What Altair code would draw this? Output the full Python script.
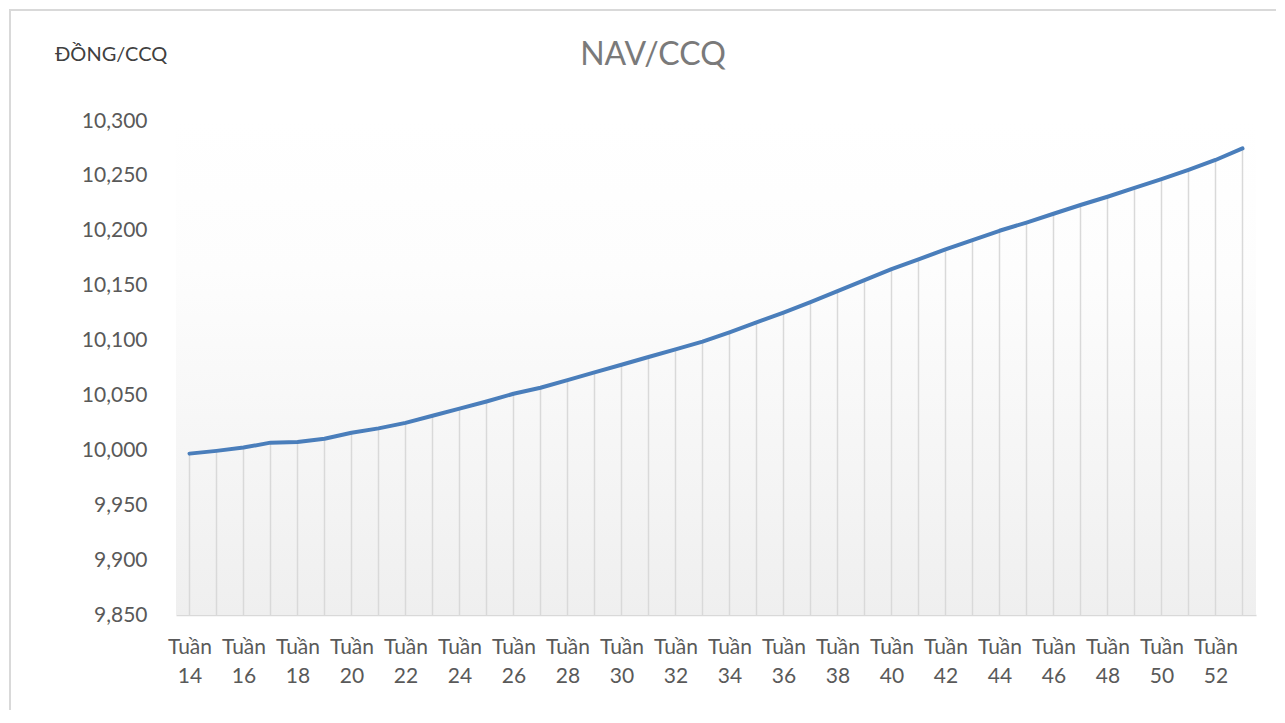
import altair as alt
import pandas as pd

weeks = list(range(14, 54))
nav = [9997, 9999.5, 10002.5, 10007, 10007.5, 10010.5, 10016, 10020, 10025, 10031.5,
       10038, 10044.5, 10051.5, 10057, 10064, 10071, 10078, 10085, 10092, 10099,
       10107.5, 10116.5, 10125.5, 10135, 10145, 10155, 10165, 10174, 10183, 10191.5,
       10200, 10207.5, 10215.5, 10223.5, 10231, 10239, 10247, 10255.5, 10264.5, 10275]
label_weeks = list(range(14, 53, 2))
y_ticks = list(range(9850, 10301, 50))
title_text = "NAV/CCQ"
y_title_text = "ĐỒNG/CCQ"

df = pd.DataFrame({"week": weeks, "nav": nav})

W, H = 1080, 494
FONT = "Lato"

x = alt.X("week:Q", scale=alt.Scale(domain=[13.5, 53.5], nice=False, zero=False),
          axis=alt.Axis(values=label_weeks, labelExpr="['Tuần', '' + datum.value]",
                        ticks=False, grid=False, domainColor="#d9d9d9", domainWidth=1.5,
                        labelFontSize=21, labelColor="#595959", labelFont=FONT,
                        labelPadding=21, labelLineHeight=29, labelOverlap=False,
                        labelFlush=False, title=None))
y = alt.Y("nav:Q", scale=alt.Scale(domain=[9850, 10300], nice=False, zero=False),
          axis=alt.Axis(values=y_ticks, format=",.0f", ticks=False, grid=False, domain=False,
                        labelFontSize=21, labelColor="#595959", labelFont=FONT,
                        labelPadding=29, title=None))

border = alt.Chart(df).mark_rect(fillOpacity=0, stroke="#d9d9d9", strokeWidth=1.5).encode(
    x=alt.value(-166), x2=alt.value(1300), y=alt.value(-111), y2=alt.value(800))

bg = alt.Chart(df).mark_rect(
    fill=alt.Gradient(gradient="linear",
                      stops=[alt.GradientStop(color="#ffffff", offset=0),
                             alt.GradientStop(color="#fdfdfd", offset=0.3),
                             alt.GradientStop(color="#efefef", offset=1)],
                      x1=0, x2=0, y1=0, y2=1)
).encode(x=alt.value(0), x2=alt.value(W), y=alt.value(0), y2=alt.value(H))

rules = alt.Chart(df).mark_rule(color="#d9d9d9", strokeWidth=1.5).encode(
    x=x, y=y, y2=alt.value(H))

line = alt.Chart(df).mark_line(color="#4a7ebb", strokeWidth=4, strokeCap="round",
                               strokeJoin="round").encode(x=x, y=y)

title = alt.Chart(pd.DataFrame({"t": [title_text]})).mark_text(
    font=FONT, fontSize=32, color="#7a7a7a", align="center", baseline="middle"
).encode(text="t:N", x=alt.value(653 - 176), y=alt.value(55 - 121))

y_title = alt.Chart(pd.DataFrame({"t": [y_title_text]})).mark_text(
    font=FONT, fontSize=20, color="#404040", align="left", baseline="middle"
).encode(text="t:N", x=alt.value(55 - 176), y=alt.value(55 - 121))

chart = alt.layer(border, bg, rules, line, title, y_title).properties(
    width=W, height=H,
    padding={"left": 168, "top": 113, "right": 20, "bottom": 95},
    autosize=alt.AutoSizeParams(type="none"),
).configure_view(stroke=None)

chart.save("out.html", embed_options={"renderer": "svg", "actions": False})
